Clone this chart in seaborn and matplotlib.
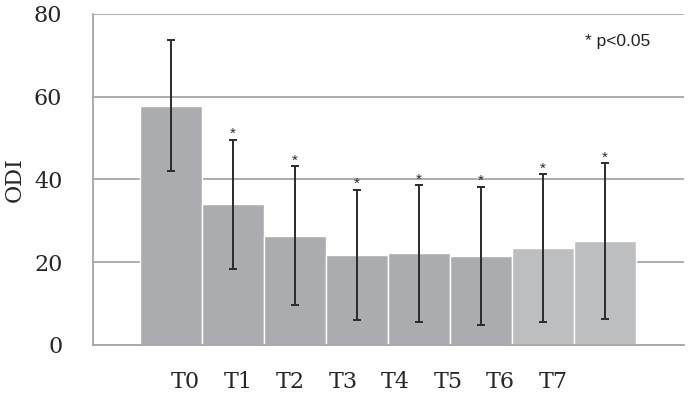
import matplotlib

matplotlib.use("Agg")

import matplotlib.pyplot as plt
import numpy as np
import pandas as pd
import seaborn as sns

# values
timepoints = ["T0", "T1", "T2", "T3", "T4", "T5", "T6", "T7"]
odi_mean = [57.8, 34.0, 26.4, 21.8, 22.1, 21.5, 23.4, 25.1]
odi_sd = [15.8, 15.6, 16.8, 15.7, 16.5, 16.7, 17.8, 18.8]
significant = [False, True, True, True, True, True, True, True]
bar_colors = ["#abacaf"] * 6 + ["#bdbec0"] * 2

GRID = "#a6a6a6"


def main() -> None:
    df = pd.DataFrame({"time": timepoints, "odi": odi_mean, "sd": odi_sd})

    sns.set_theme(style="white")
    plt.rcParams["font.family"] = ["DejaVu Serif"]

    fig = plt.figure(figsize=(6.88, 3.95), dpi=100)
    ax = fig.add_axes([0.135, 0.127, 0.859, 0.838])

    sns.barplot(
        data=df,
        x="time",
        y="odi",
        hue="time",
        palette=bar_colors,
        saturation=1,
        width=1.0,
        edgecolor="white",
        linewidth=1.0,
        legend=False,
        ax=ax,
        zorder=2,
    )

    pos = np.arange(len(timepoints))
    ax.errorbar(
        pos,
        df["odi"],
        yerr=df["sd"],
        fmt="none",
        ecolor="#2b2b2b",
        elinewidth=1.4,
        capsize=3,
        capthick=1.4,
        zorder=3,
    )
    for x, m, s, sig in zip(pos, odi_mean, odi_sd, significant):
        if sig:
            ax.annotate(
                "*",
                (x, m + s),
                xytext=(0, -1),
                textcoords="offset points",
                ha="center",
                va="bottom",
                fontsize=11,
                family="Liberation Sans",
                color="#2b2b2b",
            )

    xmin, xmax = -1.26, 8.27
    ax.set_xlim(xmin, xmax)
    ax.set_ylim(0, 80)
    ax.set_yticks([0, 20, 40, 60, 80])
    ax.yaxis.grid(True, color=GRID, linewidth=1.3, zorder=0)
    ax.set_axisbelow(True)

    # category labels sit a little off the bar centres in the original
    label_pos = 0.23 + 0.847 * pos
    ax.set_xticks(label_pos)
    ax.set_xticklabels(timepoints)
    ax.set_xticks([xmin, xmax], minor=True)
    ax.tick_params(axis="x", which="major", length=0, pad=19, labelsize=16)
    ax.tick_params(axis="x", which="minor", length=7, width=1.3, color=GRID, direction="out")
    ax.tick_params(axis="y", length=8, width=1.3, color=GRID, direction="out", pad=14, labelsize=16)

    for side in ["top", "right"]:
        ax.spines[side].set_visible(False)
    for side in ["left", "bottom"]:
        ax.spines[side].set_color(GRID)
        ax.spines[side].set_linewidth(1.3)

    ax.set_xlabel("")
    ax.set_ylabel("ODI", fontsize=16, labelpad=6)

    ax.text(0.833, 0.915, "* p<0.05", transform=ax.transAxes, fontsize=12.5,
            family="Liberation Sans", color="#222222", ha="left", va="center")

    fig.savefig("out.png", dpi=100)
    plt.close(fig)


if __name__ == "__main__":
    main()
